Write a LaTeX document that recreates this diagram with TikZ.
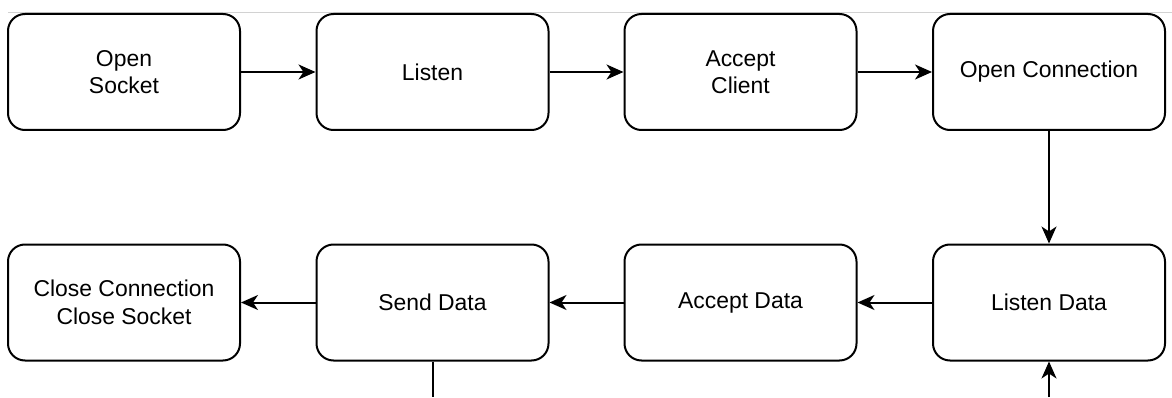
\documentclass[tikz,border=0pt]{standalone}
\usepackage{fontspec}
\setmainfont{Liberation Sans}
\usetikzlibrary{arrows.meta}
\begin{document}
\begin{tikzpicture}[x=1pt,y=1pt,
  stepbox/.style={draw=black, line width=2pt, rounded corners=17pt,
    minimum width=232pt, minimum height=116pt, inner sep=0pt,
    align=center, font=\fontsize{22.9pt}{27.5pt}\selectfont},
  flow/.style={draw=black, line width=2pt,
    -{Stealth[length=17pt, width=15pt, inset=5pt]}},
  plain/.style={draw=black, line width=2pt}]
\useasboundingbox (0,0) rectangle (1172,397);
\fill[white] (0,0) rectangle (1172,397);
% thin rule along the top
\draw[gray!35, line width=0.8pt] (8,385) -- (1172,385);
% first row
\node[stepbox] (open)   at (124,325)  {Open\\Socket};
\node[stepbox] (listen) at (432.5,325) {Listen};
\node[stepbox] (accept) at (740.5,325) {Accept\\Client};
\node[stepbox] (conn)   at (1049,325) {Open Connection};
% second row
\node[stepbox] (close)  at (124,94.5)  {Close Connection\\Close Socket};
\node[stepbox] (send)   at (432.5,94.5) {Send Data};
\node[stepbox] (adata)  at (740.5,94.5) {Accept Data};
\node[stepbox] (ldata)  at (1049,94.5) {Listen Data};
% loose ends below the second row
\coordinate (sendout) at (432.5,0);
\coordinate (loopin)  at (1049,0);
% connectors
\draw[flow] (open) -- (listen);
\draw[flow] (listen) -- (accept);
\draw[flow] (accept) -- (conn);
\draw[flow] (conn) -- (ldata);
\draw[flow] (ldata) -- (adata);
\draw[flow] (adata) -- (send);
\draw[flow] (send) -- (close);
\draw[plain] (send.south) -- (sendout);
\draw[flow] (loopin) -- (ldata.south);
\end{tikzpicture}
\end{document}
